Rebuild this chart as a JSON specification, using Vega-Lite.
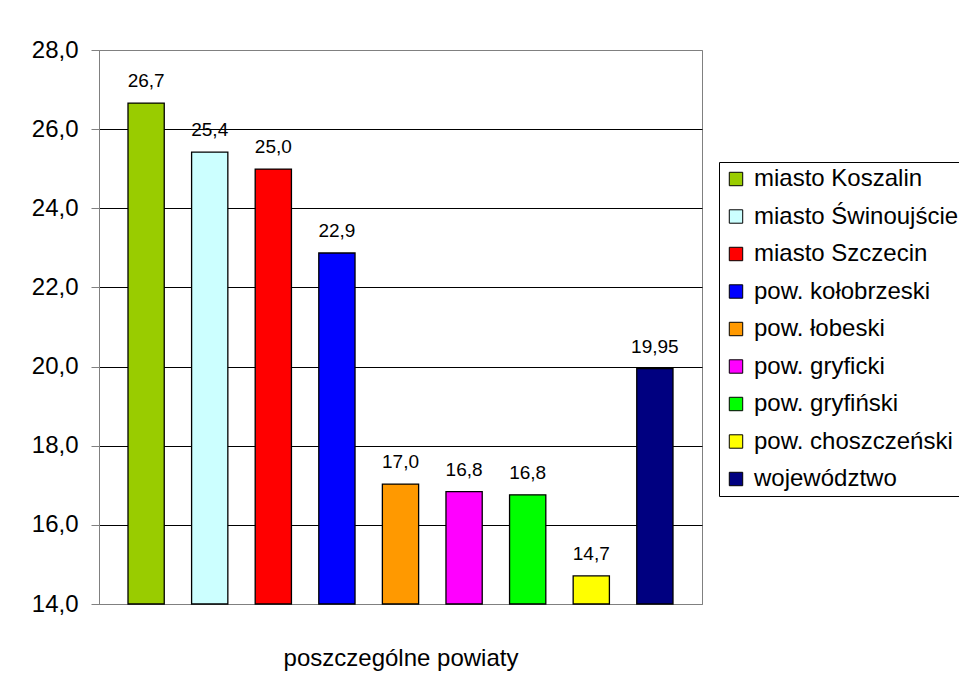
{
  "$schema": "https://vega.github.io/schema/vega-lite/v6.json",
  "autosize": "none",
  "padding": {"left": 99, "top": 50, "right": 257, "bottom": 71},
  "width": 603,
  "height": 554,
  "background": "white",
  "data": {
    "values": [
      {"name": "miasto Koszalin", "value": 26.66, "label": "26,7"},
      {"name": "miasto Świnoujście", "value": 25.42, "label": "25,4"},
      {"name": "miasto Szczecin", "value": 24.99, "label": "25,0"},
      {"name": "pow. kołobrzeski", "value": 22.87, "label": "22,9"},
      {"name": "pow. łobeski", "value": 17.03, "label": "17,0"},
      {"name": "pow. gryficki", "value": 16.84, "label": "16,8"},
      {"name": "pow. gryfiński", "value": 16.76, "label": "16,8"},
      {"name": "pow. choszczeński", "value": 14.71, "label": "14,7"},
      {"name": "województwo", "value": 19.95, "label": "19,95"}
    ]
  },
  "encoding": {
    "x": {
      "field": "name",
      "type": "nominal",
      "sort": null,
      "scale": {"paddingInner": 0.43, "paddingOuter": 0.456},
      "axis": {
        "labels": false,
        "ticks": false,
        "domainColor": "#808080",
        "title": "poszczególne powiaty",
        "titleFontSize": 24,
        "titleFontWeight": "normal",
        "titleFont": "Liberation Sans",
        "titleColor": "black",
        "titlePadding": 42
      }
    },
    "y": {
      "field": "value",
      "type": "quantitative",
      "scale": {"domain": [14, 28], "zero": false, "nice": false},
      "axis": {
        "title": null,
        "values": [14, 16, 18, 20, 22, 24, 26, 28],
        "format": ".1f",
        "labelFontSize": 24,
        "labelFont": "Liberation Sans",
        "labelColor": "black",
        "labelPadding": 13,
        "tickSize": 8,
        "tickColor": "#808080",
        "domainColor": "#808080",
        "grid": true,
        "gridColor": {"condition": {"test": "datum.value === 28 || datum.value === 14", "value": "#808080"}, "value": "black"},
        "gridOpacity": 1
      }
    }
  },
  "layer": [
    {
      "mark": {"type": "bar", "stroke": "black", "strokeWidth": 1.3},
      "encoding": {
        "y2": {"datum": 14},
        "color": {
          "field": "name",
          "type": "nominal",
          "scale": {
            "domain": ["miasto Koszalin", "miasto Świnoujście", "miasto Szczecin", "pow. kołobrzeski", "pow. łobeski", "pow. gryficki", "pow. gryfiński", "pow. choszczeński", "województwo"],
            "range": ["#99CC00", "#CCFFFF", "#FF0000", "#0000FF", "#FF9900", "#FF00FF", "#00FF00", "#FFFF00", "#000080"]
          },
          "legend": {
            "title": null,
            "orient": "none",
            "legendX": 620,
            "legendY": 112,
            "symbolType": "square",
            "symbolSize": 180,
            "symbolStrokeColor": "black",
            "symbolStrokeWidth": 1,
            "symbolOpacity": 1,
            "labelFontSize": 24,
            "labelFont": "Liberation Sans",
            "labelColor": "black",
            "labelLimit": 400,
            "labelOffset": 6,
            "rowPadding": 13.5,
            "padding": 5,
            "strokeColor": "black",
            "fillColor": "white"
          }
        }
      }
    },
    {
      "mark": {"type": "text", "baseline": "bottom", "dy": -12, "fontSize": 19, "font": "Liberation Sans", "color": "black"},
      "encoding": {
        "text": {"field": "label"}
      }
    }
  ],
  "config": {
    "locale": {"number": {"decimal": ",", "thousands": " ", "grouping": [3], "currency": ["", " zł"]}},
    "view": {"stroke": "#808080", "strokeWidth": 1}
  }
}
